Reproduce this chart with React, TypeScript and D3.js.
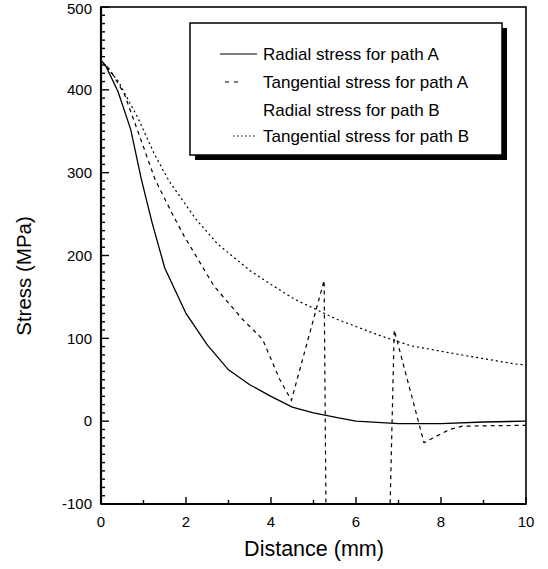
import React from "react";
import * as d3 from "d3";

// ---- Data ----
const radialAX = [0, 0.1, 0.4, 0.7, 0.95, 1.2, 1.5, 2.0, 2.5, 3.0, 3.5, 4.0, 4.5, 5.0, 5.5, 6.0, 7.0, 8.0, 9.0, 10];
const radialAY = [435, 430, 398, 352, 292, 240, 185, 130, 92, 62, 44, 30, 17, 10, 5, 0, -3, -3, -1, 0];

const tangAX = [0, 0.2, 0.55, 1.0, 1.27, 1.7, 1.95, 2.66, 3.33, 3.8, 4.2, 4.48, 5.25, 5.3, 6.78, 6.9, 7.6, 8.2, 8.5, 10];
const tangAY = [435, 425, 395, 331, 292, 248, 224, 163, 123, 99, 51, 25, 170, -150, -150, 110, -26, -10, -6, -5];

const tangBX = [0, 0.4, 0.88, 1.24, 1.6, 2.23, 2.74, 3.5, 4.0, 4.56, 5.55, 6.58, 7.29, 8.48, 9.75, 10];
const tangBY = [435, 411, 365, 324, 290, 244, 214, 182, 165, 147, 123, 103, 91, 80, 69, 68];

const legendLabels = [
  "Radial stress for path A",
  "Tangential stress for path A",
  "Radial stress for path B",
  "Tangential stress for path B",
];

const xMajorTicks = [0, 2, 4, 6, 8, 10];
const yMajorTicks = [-100, 0, 100, 200, 300, 400, 500];

const xTitle = "Distance (mm)";
const yTitle = "Stress (MPa)";

// ---- Layout ----
const W = 548;
const H = 569;
const left = 101;
const right = 526;
const top = 7;
const bottom = 504;

const FONT = "'Liberation Sans', Arial, sans-serif";

export default function App() {
  const x = d3.scaleLinear().domain([0, 10]).range([left, right]);
  const y = d3.scaleLinear().domain([-100, 500]).range([bottom, top]);

  const toPts = (xs: number[], ys: number[]) => xs.map((v, i) => [v, ys[i]] as [number, number]);
  const line = d3
    .line<[number, number]>()
    .x((d) => x(d[0]))
    .y((d) => y(d[1]));

  const series = [
    { pts: toPts(radialAX, radialAY), dash: "none", width: 1.3 },
    { pts: toPts(tangAX, tangAY), dash: "4,4", width: 1.2 },
    { pts: toPts(tangBX, tangBY), dash: "2,3", width: 1.2 },
  ];

  const yMinor = d3.range(-100, 501, 10);
  const xMinor = d3.range(0, 11, 1);

  const legX = 190;
  const legY = 23;
  const legW = 312;
  const legH = 132;
  const rowY = [54, 82, 110, 136];

  return (
    <div style={{ position: "absolute", left: 0, top: 0 }}>
      <svg width={W} height={H} style={{ display: "block", background: "#fff" }}>
        <defs>
          <clipPath id="plotClip">
            <rect x={left} y={top} width={right - left} height={bottom - top} />
          </clipPath>
        </defs>

        {/* Series */}
        <g clipPath="url(#plotClip)">
          {series.map((s, i) => (
            <path
              key={i}
              d={line(s.pts) || ""}
              fill="none"
              stroke="#000"
              strokeWidth={s.width}
              strokeDasharray={s.dash}
            />
          ))}
        </g>

        {/* Frame */}
        <rect x={left} y={top} width={right - left} height={bottom - top} fill="none" stroke="#000" strokeWidth={1.6} />
        <line x1={left} x2={left} y1={top} y2={bottom} stroke="#000" strokeWidth={2.2} />
        <line x1={left} x2={right} y1={bottom} y2={bottom} stroke="#000" strokeWidth={2.2} />

        {/* Y ticks */}
        {yMinor.map((v) => {
          const major = v % 100 === 0;
          return (
            <line key={"ym" + v} x1={left} x2={left + (major ? 8 : 4)} y1={y(v)} y2={y(v)} stroke="#000" strokeWidth={1.4} />
          );
        })}
        {yMajorTicks.map((v) => (
          <text
            key={"yl" + v}
            x={left - 9}
            y={y(v) + (v === 500 ? 2 : 0)}
            dy="0.35em"
            textAnchor="end"
            fontFamily={FONT}
            fontSize={15}
          >
            {v}
          </text>
        ))}

        {/* X ticks */}
        {xMinor.map((v) => {
          const major = v % 2 === 0;
          return (
            <line key={"xm" + v} x1={x(v)} x2={x(v)} y1={bottom} y2={bottom - (major ? 7 : 4)} stroke="#000" strokeWidth={1.4} />
          );
        })}
        {xMajorTicks.map((v) => (
          <text key={"xl" + v} x={x(v)} y={527} textAnchor="middle" fontFamily={FONT} fontSize={15}>
            {v}
          </text>
        ))}

        {/* Axis titles */}
        <text x={314} y={556} textAnchor="middle" fontFamily={FONT} fontSize={21.5}>
          {xTitle}
        </text>
        <text
          transform={`translate(31, 276) rotate(-90)`}
          textAnchor="middle"
          fontFamily={FONT}
          fontSize={20.5}
        >
          {yTitle}
        </text>

        {/* Legend */}
        <rect x={legX + 5} y={legY + 5} width={legW} height={legH} fill="#000" />
        <rect x={legX} y={legY} width={legW} height={legH} fill="#fff" stroke="#000" strokeWidth={1.5} />
        <line x1={220} x2={257} y1={rowY[0]} y2={rowY[0]} stroke="#000" strokeWidth={1.2} />
        <line x1={225} x2={240} y1={rowY[1]} y2={rowY[1]} stroke="#000" strokeWidth={1.2} strokeDasharray="4,5" />
        <line x1={233} x2={257} y1={rowY[3]} y2={rowY[3]} stroke="#000" strokeWidth={1.2} strokeDasharray="1.5,2.5" />
        {legendLabels.map((t, i) => (
          <text key={t} x={263} y={rowY[i]} dy="0.35em" fontFamily={FONT} fontSize={17}>
            {t}
          </text>
        ))}
      </svg>
    </div>
  );
}
